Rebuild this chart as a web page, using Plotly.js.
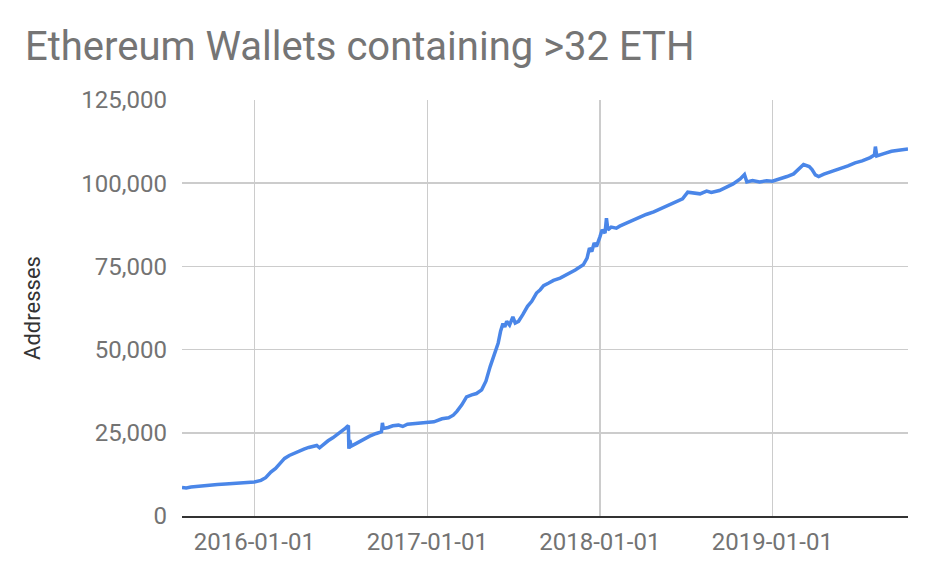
<!DOCTYPE html>
<html>
<head>
<meta charset="utf-8">
<script src="https://cdn.plot.ly/plotly-3.0.1.min.js"></script>
<style>
  body { margin: 0; background: #fff; }
  #chart { width: 934px; height: 580px; }
</style>
</head>
<body>
<div id="chart"></div>
<script>
// values
var dates = [
  "2015-08-01","2015-08-10","2015-08-20","2015-09-01","2015-09-15","2015-10-01","2015-10-15",
  "2015-11-01","2015-11-15","2015-12-01","2015-12-15","2016-01-01","2016-01-15","2016-01-25",
  "2016-02-05","2016-02-15","2016-02-25","2016-03-05","2016-03-15","2016-03-25","2016-04-05",
  "2016-04-15","2016-04-25","2016-05-05","2016-05-12","2016-05-18","2016-05-25","2016-06-05",
  "2016-06-15","2016-06-25","2016-07-05","2016-07-12","2016-07-18","2016-07-19","2016-07-21",
  "2016-07-24","2016-08-01","2016-08-15","2016-09-01","2016-09-15","2016-09-26","2016-09-28",
  "2016-09-30","2016-10-10","2016-10-20","2016-11-01","2016-11-10","2016-11-20","2016-12-01",
  "2016-12-15","2017-01-01","2017-01-15","2017-02-01","2017-02-15","2017-02-25","2017-03-05",
  "2017-03-15","2017-03-25","2017-04-05","2017-04-15","2017-04-26","2017-05-05","2017-05-14",
  "2017-05-22","2017-05-31","2017-06-05","2017-06-10","2017-06-14","2017-06-18","2017-06-24",
  "2017-07-01","2017-07-06","2017-07-13","2017-07-22","2017-08-01","2017-08-10","2017-08-20",
  "2017-08-28","2017-09-04","2017-09-15","2017-09-25","2017-10-09","2017-10-25","2017-11-10",
  "2017-11-27","2017-12-05","2017-12-10","2017-12-15","2017-12-20","2017-12-25","2018-01-01",
  "2018-01-06","2018-01-12","2018-01-15","2018-01-18","2018-01-25","2018-02-05","2018-02-12",
  "2018-02-25","2018-03-10","2018-03-25","2018-04-09","2018-04-25","2018-05-07","2018-05-25",
  "2018-06-15","2018-06-25","2018-07-06","2018-07-20","2018-08-01","2018-08-15","2018-08-25",
  "2018-09-11","2018-09-25","2018-10-10","2018-10-25","2018-11-03","2018-11-08","2018-11-20",
  "2018-12-05","2018-12-20","2019-01-01","2019-01-15","2019-02-01","2019-02-15","2019-02-28",
  "2019-03-08","2019-03-20","2019-03-26","2019-04-02","2019-04-09","2019-04-20","2019-05-11",
  "2019-05-25","2019-06-10","2019-06-25","2019-07-10","2019-07-27","2019-08-05","2019-08-07",
  "2019-08-10","2019-08-25","2019-09-10","2019-09-25","2019-10-15"
];

var addresses = [
  8600, 8450, 8700, 8900, 9200, 9400, 9450,
  9600, 9750, 9900, 10050, 10250, 10700, 11500,
  13200, 14300, 15900, 17300, 18200, 18900, 19500,
  20100, 20600, 20800, 21200, 20500, 21400, 22600,
  23500, 24500, 25600, 26400, 27200, 20200, 22800,
  21000, 21600, 22800, 24000, 24800, 25300, 28000,
  26300, 26600, 27100, 27300, 26900, 27600, 27700,
  27800, 28000, 28300, 29200, 29500, 30300, 31500,
  33400, 35800, 36400, 36800, 37900, 40500, 44900,
  48500, 52000, 55500, 57800, 56800, 58500, 57400,
  59800, 58000, 58500, 60500, 63000, 64500, 67000,
  68000, 69200, 70000, 70800, 71500, 72600, 73900,
  75500, 77500, 80500, 79500, 82000, 81000, 83800,
  86000, 85000, 89500, 86000, 86800, 86500, 87100,
  87900, 88800, 89700, 90600, 91400, 92200, 93300,
  94600, 95300, 97300, 97100, 96800, 97600, 97200,
  97800, 98800, 99800, 101300, 102600, 100400, 100800,
  100400, 100700, 100600, 101200, 102000, 102800, 104400,
  105600, 105000, 104100, 102500, 102000, 102700, 103700,
  104300, 105200, 106100, 106700, 107700, 108500, 111000,
  108200, 108900, 109600, 109900, 110300
];

var yearTicks = ["2016-01-01", "2017-01-01", "2018-01-01", "2019-01-01"];

var trace = {
  x: dates,
  y: addresses,
  mode: 'lines',
  type: 'scatter',
  line: { color: '#4a86e8', width: 3.5 },
  hoverinfo: 'x+y'
};

var layout = {
  width: 934,
  height: 580,
  margin: { l: 182, r: 26, t: 100, b: 64 },
  paper_bgcolor: '#ffffff',
  plot_bgcolor: '#ffffff',
  font: { family: 'Roboto, Arial, sans-serif', color: '#737373' },
  showlegend: false,
  title: {
    text: 'Ethereum Wallets containing >32 ETH',
    font: { size: 40, color: '#757575' },
    x: 25 / 934,
    xref: 'container',
    xanchor: 'left',
    y: 1 - 46 / 580,
    yref: 'container',
    yanchor: 'middle'
  },
  xaxis: {
    type: 'date',
    range: ['2015-08-01', '2019-10-15'],
    tickvals: yearTicks,
    ticktext: yearTicks,
    tickfont: { size: 24, color: '#737373' },
    showgrid: true,
    gridcolor: '#cccccc',
    gridwidth: 1.5,
    showline: true,
    linecolor: '#333333',
    linewidth: 2,
    ticks: '',
    ticklabelstandoff: 3,
    zeroline: false
  },
  yaxis: {
    range: [0, 125000],
    dtick: 25000,
    tick0: 0,
    tickformat: ',d',
    tickfont: { size: 24, color: '#737373' },
    showgrid: true,
    gridcolor: '#cccccc',
    gridwidth: 1.5,
    zeroline: false,
    showline: false,
    ticks: '',
    ticklabelstandoff: 14,
    title: {
      text: 'Addresses',
      font: { size: 22, color: '#333333' },
      standoff: 34
    }
  }
};

Plotly.newPlot('chart', [trace], layout, { displayModeBar: false, staticPlot: true });
</script>
</body>
</html>
